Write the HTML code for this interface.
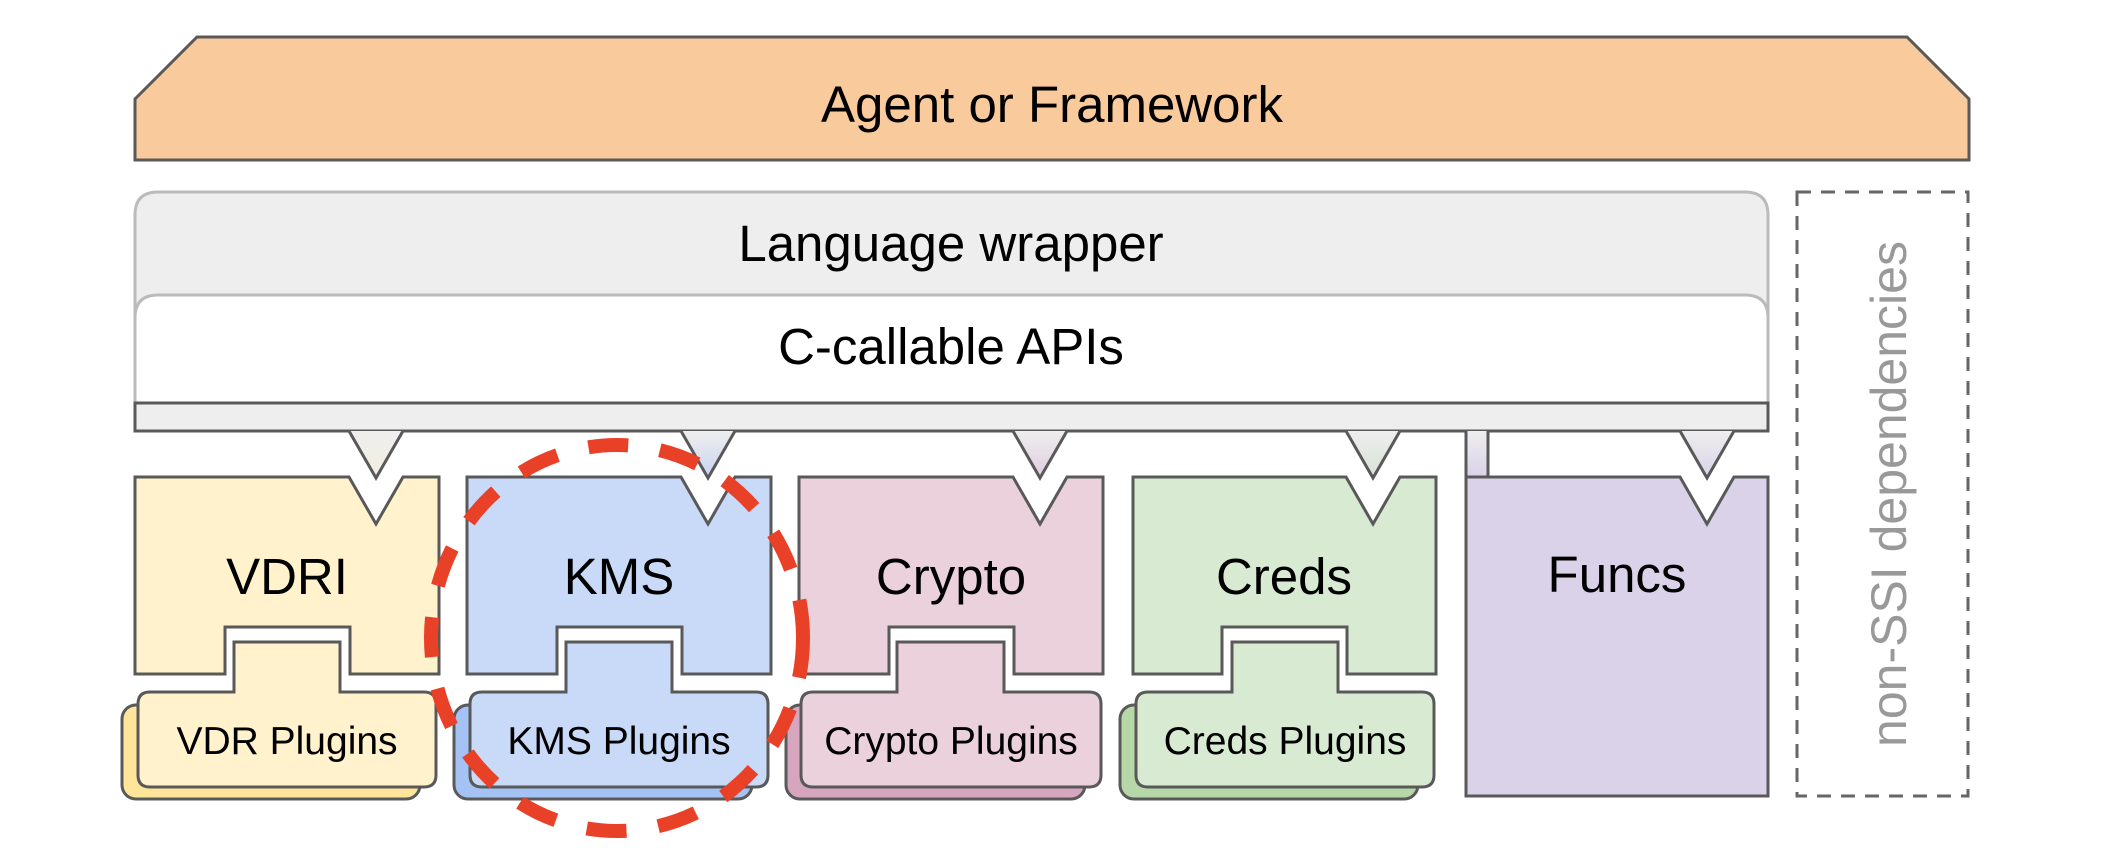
<!DOCTYPE html>
<html><head><meta charset="utf-8"><style>
html,body{margin:0;padding:0;background:#fff;}
svg{display:block;}
text{font-family:"Liberation Sans",Arial,sans-serif;fill:#000;}
</style></head><body>
<svg width="2108" height="850" viewBox="0 0 2108 850" xmlns="http://www.w3.org/2000/svg">
<defs>
<linearGradient id="gy" x1="0" y1="0" x2="0" y2="1"><stop offset="0" stop-color="#eeeeee"/><stop offset="1" stop-color="#f3eee0"/></linearGradient>
<linearGradient id="gb" x1="0" y1="0" x2="0" y2="1"><stop offset="0" stop-color="#eeeeee"/><stop offset="1" stop-color="#c9d4f0"/></linearGradient>
<linearGradient id="gp" x1="0" y1="0" x2="0" y2="1"><stop offset="0" stop-color="#eeeeee"/><stop offset="1" stop-color="#e0cde0"/></linearGradient>
<linearGradient id="gg" x1="0" y1="0" x2="0" y2="1"><stop offset="0" stop-color="#eeeeee"/><stop offset="1" stop-color="#d6e3d3"/></linearGradient>
<linearGradient id="gv" x1="0" y1="0" x2="0" y2="1"><stop offset="0" stop-color="#eeeeee"/><stop offset="1" stop-color="#d9d2e9"/></linearGradient>
</defs>

<path d="M135,99 L197,37 L1907,37 L1969,99 L1969,160 L135,160 Z" fill="#f9cb9c" stroke="#595959" stroke-width="3"/>
<text x="1052" y="122" font-size="51" text-anchor="middle">Agent or Framework</text>

<path d="M135,431 L135,215 Q135,192 158,192 L1745,192 Q1768,192 1768,215 L1768,431 Z" fill="#eeeeee" stroke="#bbbbbb" stroke-width="3"/>
<text x="951" y="261" font-size="51" text-anchor="middle">Language wrapper</text>
<path d="M135,431 L135,318 Q135,295 158,295 L1745,295 Q1768,295 1768,318 L1768,431 Z" fill="#ffffff" stroke="#bbbbbb" stroke-width="3"/>
<text x="951" y="364" font-size="51" text-anchor="middle">C-callable APIs</text>
<rect x="135" y="403" width="1633" height="28" fill="#eeeeee" stroke="#595959" stroke-width="3"/>

<g stroke="#595959" stroke-width="3">
<path d="M349,431 L376,478 L403,431" fill="url(#gy)"/>
<path d="M681,431 L708,478 L735,431" fill="url(#gb)"/>
<path d="M1013,431 L1040,478 L1067,431" fill="url(#gp)"/>
<path d="M1346,431 L1373,478 L1400,431" fill="url(#gg)"/>
<path d="M1680,431 L1707,478 L1734,431" fill="url(#gv)"/>
</g>
<rect x="1466" y="431" width="22" height="46" fill="url(#gv)"/>
<path d="M1466,431 L1466,477 M1488,431 L1488,477" stroke="#595959" stroke-width="3"/>

<g stroke="#595959" stroke-width="3">
<path d="M135,477 L349,477 L376,524 L403,477 L439,477 L439,674 L350,674 L350,627 L225,627 L225,674 L135,674 Z" fill="#fff2cc"/>
<rect x="122" y="705" width="298" height="94" rx="14" fill="#ffe599"/>
<path d="M138,704 Q138,692 150,692 L234,692 L234,642 L340,642 L340,692 L424,692 Q436,692 436,704 L436,775 Q436,787 424,787 L150,787 Q138,787 138,775 Z" fill="#fff2cc"/>
<path d="M467,477 L681,477 L708,524 L735,477 L771,477 L771,674 L682,674 L682,627 L557,627 L557,674 L467,674 Z" fill="#c9daf8"/>
<rect x="454" y="705" width="298" height="94" rx="14" fill="#a4c2f4"/>
<path d="M470,704 Q470,692 482,692 L566,692 L566,642 L672,642 L672,692 L756,692 Q768,692 768,704 L768,775 Q768,787 756,787 L482,787 Q470,787 470,775 Z" fill="#c9daf8"/>
<path d="M799,477 L1013,477 L1040,524 L1067,477 L1103,477 L1103,674 L1014,674 L1014,627 L889,627 L889,674 L799,674 Z" fill="#ead1dc"/>
<rect x="786" y="705" width="299" height="94" rx="14" fill="#d5a6bd"/>
<path d="M801,704 Q801,692 813,692 L897,692 L897,642 L1004,642 L1004,692 L1089,692 Q1101,692 1101,704 L1101,775 Q1101,787 1089,787 L813,787 Q801,787 801,775 Z" fill="#ead1dc"/>
<path d="M1133,477 L1346,477 L1373,524 L1400,477 L1436,477 L1436,674 L1347,674 L1347,627 L1222,627 L1222,674 L1133,674 Z" fill="#d9ead3"/>
<rect x="1120" y="705" width="298" height="94" rx="14" fill="#b6d7a8"/>
<path d="M1136,704 Q1136,692 1148,692 L1232,692 L1232,642 L1338,642 L1338,692 L1422,692 Q1434,692 1434,704 L1434,775 Q1434,787 1422,787 L1148,787 Q1136,787 1136,775 Z" fill="#d9ead3"/>
<path d="M1466,477 L1488,477 M1488,477 L1680,477 L1707,524 L1734,477 L1768,477 L1768,796 L1466,796 L1466,477" fill="#d9d2e9"/>
</g>

<text x="287" y="594" font-size="51" text-anchor="middle">VDRI</text>
<text x="619" y="594" font-size="51" text-anchor="middle">KMS</text>
<text x="951" y="594" font-size="51" text-anchor="middle">Crypto</text>
<text x="1284" y="594" font-size="51" text-anchor="middle">Creds</text>
<text x="1617" y="592" font-size="51" text-anchor="middle">Funcs</text>

<text x="287" y="754" font-size="39" text-anchor="middle">VDR Plugins</text>
<text x="619" y="754" font-size="39" text-anchor="middle">KMS Plugins</text>
<text x="951" y="754" font-size="39" text-anchor="middle">Crypto Plugins</text>
<text x="1285" y="754" font-size="39" text-anchor="middle">Creds Plugins</text>

<rect x="1797" y="192" width="171" height="604" fill="none" stroke="#666666" stroke-width="3" stroke-dasharray="14,10"/>
<text x="0" y="0" font-size="50" text-anchor="middle" transform="translate(1906,494) rotate(-90)" style="fill:#999999">non-SSI dependencies</text>

<ellipse cx="617" cy="638" rx="186" ry="193" fill="none" stroke="#e94128" stroke-width="14" stroke-dasharray="40,32"/>
</svg>
</body></html>
